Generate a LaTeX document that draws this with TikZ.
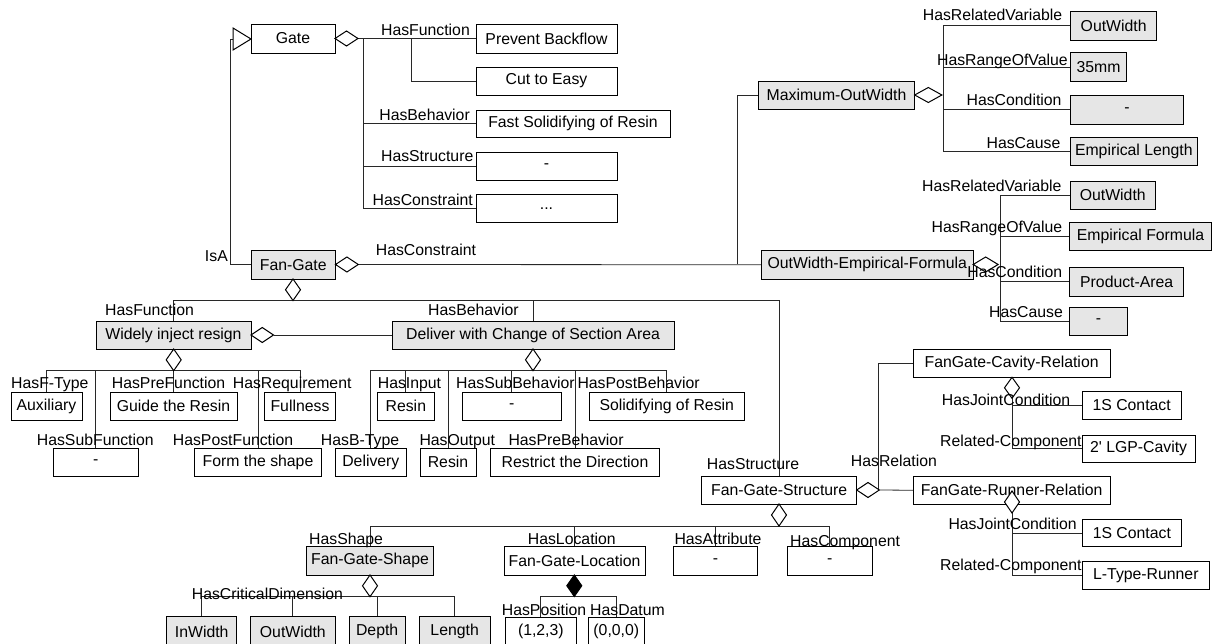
\documentclass[tikz,border=0pt]{standalone}
\usepackage{fontspec}
\setmainfont{Liberation Sans}
\definecolor{boxfill}{RGB}{230,230,230}
\definecolor{linec}{RGB}{40,40,40}
\newcommand{\mkbox}[7][]{%
  \pgfmathsetmacro{\mbcx}{(#3+#5)/2}%
  \pgfmathsetmacro{\mbcy}{(#4+#6)/2}%
  \pgfmathsetmacro{\mbw}{#5-#3}%
  \pgfmathsetmacro{\mbh}{#6-#4}%
  \node[bx,#1,minimum width=\mbw pt,minimum height=\mbh pt] (#2) at (\mbcx,\mbcy) {#7};}
\newcommand{\hdia}[4][white]{\filldraw[dia,fill=#1] (#2,#4) -- ({(#2+#3)/2},{#4-7.5}) -- (#3,#4) -- ({(#2+#3)/2},{#4+7.5}) -- cycle;}
\newcommand{\vdia}[4][white]{\filldraw[dia,fill=#1] (#2,#3) -- ({#2+7.5},{(#3+#4)/2}) -- (#2,#4) -- ({#2-7.5},{(#3+#4)/2}) -- cycle;}
\begin{document}
\begin{tikzpicture}[x=1pt,y=-1pt,
  bx/.style={draw=black,line width=0.9pt,fill=white,inner sep=0pt,font=\fontsize{15.8}{18}\selectfont},
  gb/.style={fill=boxfill},
  dia/.style={draw=black,line width=1pt,line join=miter},
  con/.style={draw=linec,line width=0.8pt},
  lbl/.style={inner sep=0pt,anchor=base west,font=\fontsize{15.8}{18}\selectfont},
  lbr/.style={lbl,anchor=base east}]
\useasboundingbox[fill=white] (0,0) rectangle (1213,644);

% ---------- boxes ----------
\mkbox{gate}{251}{24}{335}{53}{Gate}
\mkbox{pb}{476}{24}{617}{53}{Prevent Backflow}
\mkbox{cte}{476}{67}{617}{95}{Cut to Easy}
\mkbox{fsr}{476}{110}{670}{137.5}{Fast Solidifying of Resin}
\mkbox{gstr}{476}{152}{617}{180}{-}
\mkbox{gcon}{476}{194}{617}{222.5}{...}
\mkbox[gb]{fangate}{251}{250.5}{335.5}{279}{Fan-Gate}
\mkbox[gb]{maxw}{758.3}{81}{914.7}{109.5}{Maximum-OutWidth}
\mkbox[gb]{mwa}{1070.5}{11}{1156.8}{40}{OutWidth}
\mkbox[gb]{mwb}{1070.5}{52.5}{1126.7}{81.5}{35mm}
\mkbox[gb]{mwc}{1070.5}{95.5}{1183.6}{124}{-}
\mkbox[gb]{mwd}{1070.5}{137.5}{1197.2}{165.5}{Empirical Length}
\mkbox[gb]{owef}{761.2}{250.5}{973.2}{279}{OutWidth-Empirical-Formula}
\mkbox[gb]{ewa}{1070.5}{181}{1155}{209}{OutWidth}
\mkbox[gb]{ewb}{1069.8}{222.5}{1211.4}{250.5}{Empirical Formula}
\mkbox[gb]{ewc}{1069.8}{267.5}{1183.6}{296}{Product-Area}
\mkbox[gb]{ewd}{1069.8}{307.5}{1127.4}{335.5}{-}
\mkbox[gb]{wir}{96}{321}{251}{349}{Widely inject resign}
\mkbox[gb]{dcsa}{392}{321}{674}{349}{Deliver with Change of Section Area}
\mkbox{aux}{11}{392}{82}{420}{Auxiliary}
\mkbox{gtr}{110}{392}{237}{420}{Guide the Resin}
\mkbox{full}{264.3}{392}{335.7}{420}{Fullness}
\mkbox{rsa}{377.7}{392}{434}{420}{Resin}
\mkbox{sbh}{462.3}{392}{561}{420}{-}
\mkbox{sor}{589.3}{392}{744.3}{420}{Solidifying of Resin}
\mkbox{sfn}{53.3}{448}{138.3}{476}{-}
\mkbox{fts}{194.3}{448}{321.7}{476}{Form the shape}
\mkbox{dlv}{335.7}{448}{406}{476}{Delivery}
\mkbox{rsb}{420}{448}{476}{476}{Resin}
\mkbox{rtd}{490.7}{448}{659.3}{476}{Restrict the Direction}
\mkbox{fgs}{701.7}{476}{856.7}{504}{Fan-Gate-Structure}
\mkbox{fgcr}{913.3}{349.3}{1110}{377.3}{FanGate-Cavity-Relation}
\mkbox{cca}{1082.3}{391.7}{1181}{419.3}{1S Contact}
\mkbox{ccb}{1082.3}{435}{1195}{462.3}{2\textquotesingle{} LGP-Cavity}
\mkbox{fgrr}{913.3}{476.5}{1110}{504}{FanGate-Runner-Relation}
\mkbox{rca}{1082.7}{519.3}{1181}{546.7}{1S Contact}
\mkbox{rcb}{1082.7}{561.7}{1209}{589.3}{L-Type-Runner}
\mkbox[gb]{fgsh}{306.7}{546.7}{433.3}{575}{Fan-Gate-Shape}
\mkbox{fgl}{504}{546.7}{645}{575}{Fan-Gate-Location}
\mkbox{att}{673.3}{546.7}{757.7}{575}{-}
\mkbox{comp}{787.3}{546.7}{872.3}{575}{-}
\mkbox[gb]{inw}{166.7}{616.7}{236.7}{646}{InWidth}
\mkbox[gb]{outw}{250.7}{616.7}{335}{646}{OutWidth}
\mkbox[gb]{dep}{349.3}{616.7}{405}{646}{Depth}
\mkbox[gb]{len}{419.3}{616.7}{490}{646}{Length}
\mkbox{pta}{505.7}{617.7}{576}{646}{(1,2,3)}
\mkbox{ptb}{588.3}{617.7}{644.3}{646}{(0,0,0)}

% ---------- junction coordinates ----------
\coordinate (gj) at (358,38.5);
\coordinate (gsp) at (363,38.5);
\coordinate (gfb) at (411,38.5);
\coordinate (fgj) at (358.3,264.5);
\coordinate (fgc) at (737.3,264.5);
\coordinate (mwsp) at (943,95);
\coordinate (ewsp) at (1000,264.5);
\coordinate (fgb) at (293,300.5);
\coordinate (wij) at (173.7,370.7);
\coordinate (wir2) at (273.5,335);
\coordinate (dcj) at (533,370.7);
\coordinate (fsj) at (879.3,490);
\coordinate (fsr2) at (878.3,490);
\coordinate (fsb) at (779,526);
\coordinate (crj) at (1012,398.3);
\coordinate (rrj) at (1012,513);
\coordinate (shj) at (370,596.7);
\coordinate (loj) at (574.3,596.5);
\coordinate (isa) at (230,39);

% ---------- connectors ----------
\draw[con] (gj) -- (pb.west);
\draw[con] (gfb) |- (cte.west);
\draw[con] (gsp) |- (fsr.west);
\draw[con] (gsp) |- (gstr.west);
\draw[con] (gsp) |- (gcon.west);
\draw[con] (fangate.west) -| (isa) -- (233,39);
\draw[con] (fgj) -- (owef.west);
\draw[con] (fgc) |- (maxw.west);
\draw[con] (mwsp) |- (mwa.west);
\draw[con] (mwsp) |- (mwb.west);
\draw[con] (mwsp) |- (mwc.west);
\draw[con] (mwsp) |- (mwd.west);
\draw[con] (ewsp) |- (ewa.west);
\draw[con] (ewsp) |- (ewb.west);
\draw[con] (ewsp) |- (ewc.west);
\draw[con] (ewsp) |- (ewd.west);
\draw[con] (fgb) -| (wir.north);
\draw[con] (fgb) -| (dcsa.north);
\draw[con] (fgb) -| (fgs.north);
\draw[con] (wir2) -- (dcsa.west);
\draw[con] (wij) -| (aux.north);
\draw[con] (wij) -| (sfn.north);
\draw[con] (wij) -| (gtr.north);
\draw[con] (wij) -| (fts.north);
\draw[con] (wij) -| (full.north);
\draw[con] (dcj) -| (dlv.north);
\draw[con] (dcj) -| (rsa.north);
\draw[con] (dcj) -| (rsb.north);
\draw[con] (dcj) -| (sbh.north);
\draw[con] (dcj) -| (rtd.north);
\draw[con] (dcj) -| (sor.north);
\draw[con] (fsj) -- (fgrr.west);
\draw[con] (fsr2) |- (fgcr.west);
\draw[con] (fsb) -| (fgsh.north);
\draw[con] (fsb) -| (fgl.north);
\draw[con] (fsb) -| (att.north);
\draw[con] (fsb) -| (comp.north);
\draw[con] (crj) |- (cca.west);
\draw[con] (crj) |- (ccb.west);
\draw[con] (rrj) |- (rca.west);
\draw[con] (rrj) |- (rcb.west);
\draw[con] (shj) -| (inw.north);
\draw[con] (shj) -| (outw.north);
\draw[con] (shj) -| (dep.north);
\draw[con] (shj) -| (len.north);
\draw[con] (loj) -| (pta.north);
\draw[con] (loj) -| (ptb.north);

% ---------- diamonds / triangle ----------
\hdia{335}{358}{38.5}
\filldraw[dia,fill=white] (233,28) -- (251,39) -- (233,50) -- cycle;
\hdia{335.5}{358.3}{264.5}
\vdia{293}{279}{300.5}
\hdia{914.7}{941.9}{95}
\hdia{973.2}{998.1}{264.5}
\hdia{251}{273.5}{335}
\vdia{173.7}{349}{370.7}
\vdia{533}{349}{370.7}
\hdia{856.7}{879.3}{490}
\vdia{779}{504}{526}
\vdia{1012}{377.3}{398.3}
\vdia{1012}{491}{513}
\vdia{370}{575}{596.7}
\vdia[black]{574.3}{575}{596.5}

% ---------- labels ----------
\node[lbr] (l01) at (470,35.5) {HasFunction};
\node[lbr] (l02) at (470,120.5) {HasBehavior};
\node[lbr] (l03) at (473.5,162) {HasStructure};
\node[lbr] (l04) at (473,206) {HasConstraint};
\node[lbr] (l05) at (228,261.5) {IsA};
\node[lbl] (l06) at (375.7,255.5) {HasConstraint};
\node[lbr] (l07) at (1062.4,20.5) {HasRelatedVariable};
\node[lbr] (l08) at (1067.9,65.5) {HasRangeOfValue};
\node[lbr] (l09) at (1061.7,105.5) {HasCondition};
\node[lbr] (l10) at (1060.6,148.5) {HasCause};
\node[lbr] (l11) at (1061.7,192) {HasRelatedVariable};
\node[lbr] (l12) at (1062.4,233) {HasRangeOfValue};
\node[lbr] (l13) at (1062.4,278) {HasCondition};
\node[lbr] (l14) at (1063.1,318) {HasCause};
\node[lbl] (l15) at (105,316) {HasFunction};
\node[lbl] (l16) at (428,316) {HasBehavior};
\node[lbl] (l17) at (11,388) {HasF-Type};
\node[lbl] (l18) at (111.7,388) {HasPreFunction};
\node[lbl] (l19) at (232.7,388) {HasRequirement};
\node[lbl] (l20) at (36.7,445) {HasSubFunction};
\node[lbl] (l21) at (172.7,445) {HasPostFunction};
\node[lbl] (l22) at (377.7,388) {HasInput};
\node[lbl] (l23) at (456,388) {HasSubBehavior};
\node[lbl] (l24) at (577.3,388) {HasPostBehavior};
\node[lbr] (l25) at (399.3,445) {HasB-Type};
\node[lbl] (l26) at (419.3,445) {HasOutput};
\node[lbl] (l27) at (508.3,445) {HasPreBehavior};
\node[lbl] (l28) at (706.7,469.5) {HasStructure};
\node[lbl] (l29) at (850.7,466) {HasRelation};
\node[lbl] (l30) at (309,544) {HasShape};
\node[lbl] (l31) at (527.7,544.5) {HasLocation};
\node[lbl] (l32) at (674.3,544.5) {HasAttribute};
\node[lbl] (l33) at (790,546) {HasComponent};
\node[lbl] (l34) at (191.7,599) {HasCriticalDimension};
\node[lbl] (l35) at (501.7,615.5) {HasPosition};
\node[lbl] (l36) at (590,615.5) {HasDatum};
\node[lbl] (l37) at (941.7,405.5) {HasJointCondition};
\node[lbl] (l38) at (940,446) {Related-Component};
\node[lbl] (l39) at (948.3,529.5) {HasJointCondition};
\node[lbl] (l40) at (940,570.5) {Related-Component};
\end{tikzpicture}
\end{document}
